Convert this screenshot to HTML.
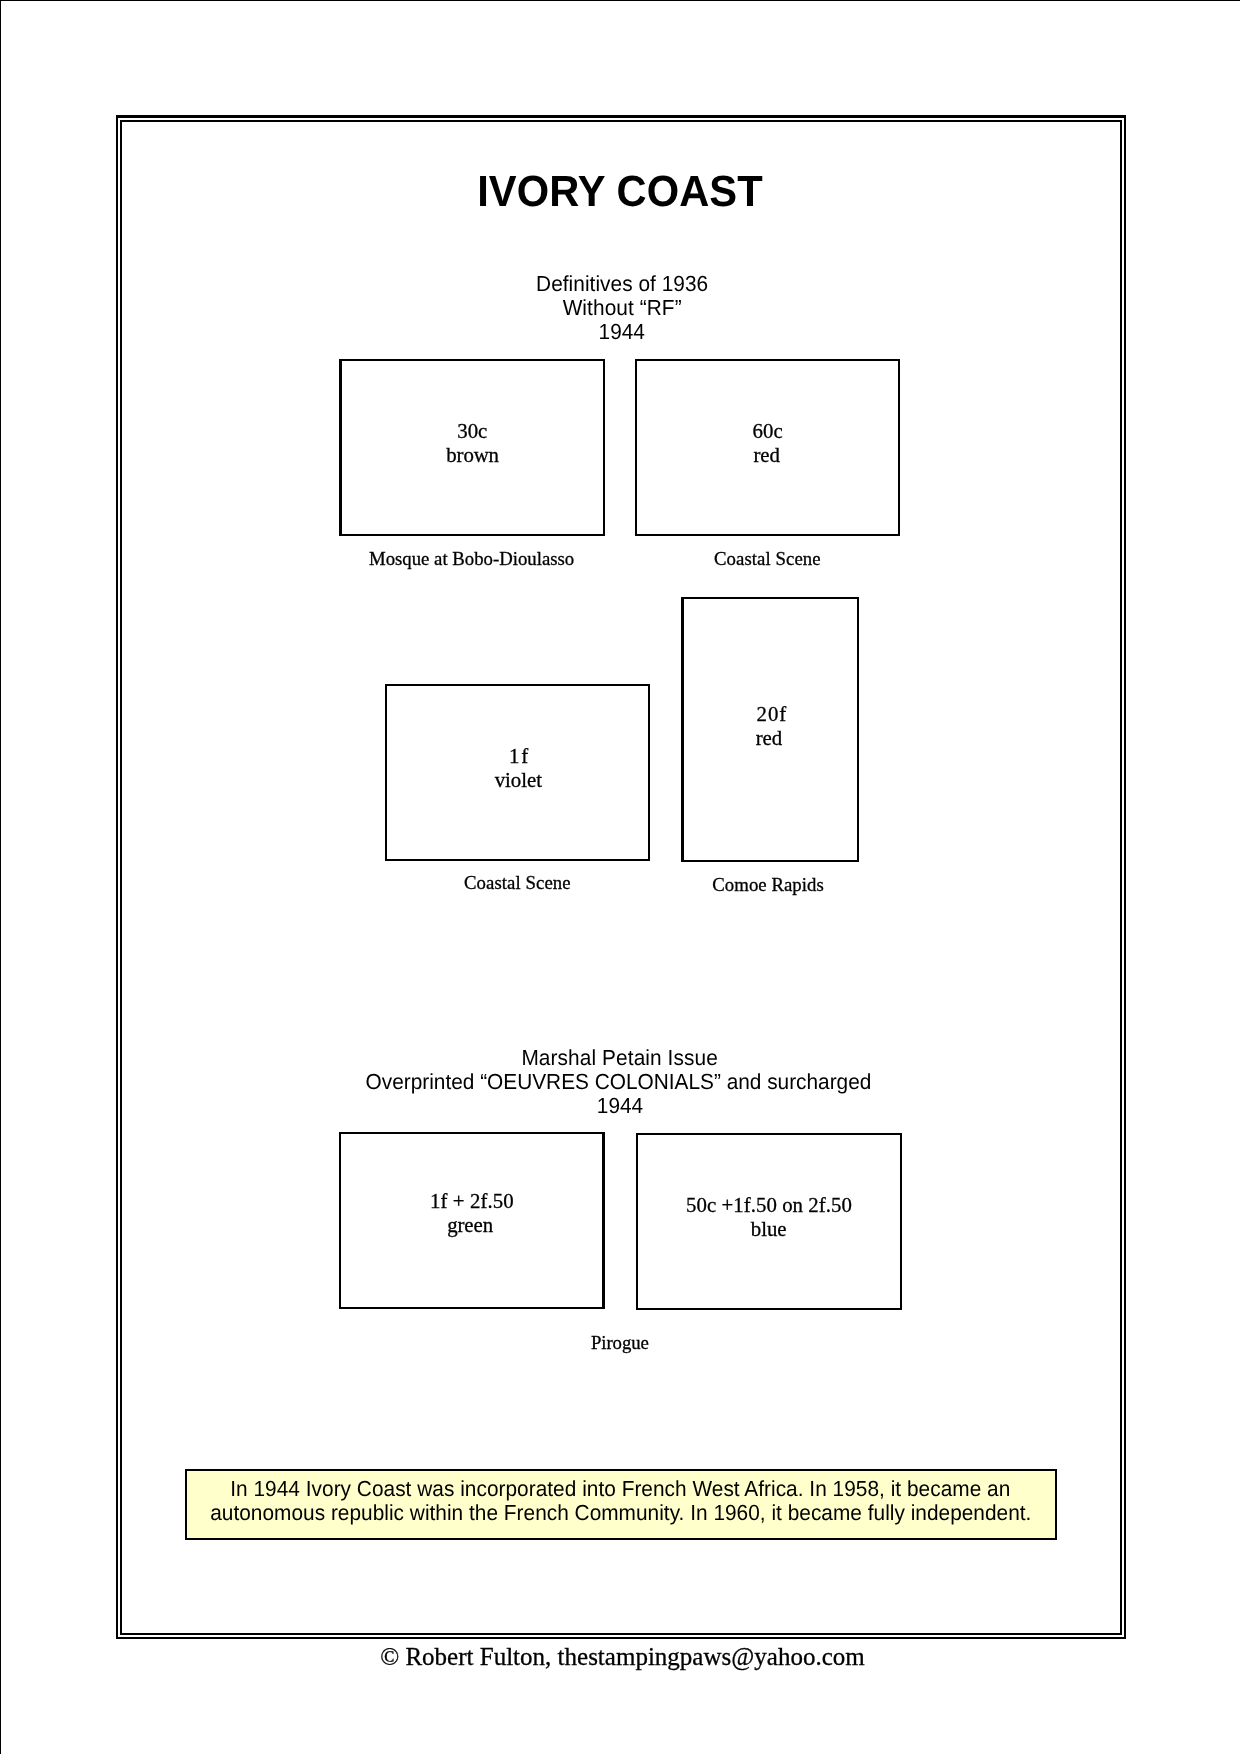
<!DOCTYPE html>
<html lang="en">
<head>
<meta charset="utf-8">
<title>Ivory Coast</title>
<style>
html,body{margin:0;padding:0;background:#fff;}
body{width:1240px;height:1754px;position:relative;overflow:hidden;color:#000;}
#sheet{position:absolute;left:0;top:0;width:1239px;height:1753px;border-left:1px solid #000;border-top:1px solid #000;}
.t{position:absolute;white-space:nowrap;margin:0;transform:translateZ(0);}
.p,.c,.f{-webkit-text-stroke:0.3px #000;}
.h{transform-origin:0 19px;transform:translate3d(0,0.8px,0) scaleY(1.046);text-rendering:geometricPrecision;}
.title{transform-origin:0 39px;transform:translateZ(0) scaleY(1.046);text-rendering:geometricPrecision;}
.b{position:absolute;border-style:solid;border-color:#000;}
.title{font:bold 41.67px/50px 'Liberation Sans', sans-serif;}
.h{font:20.83px/24px 'Liberation Sans', sans-serif;}
.p{font:20.83px/24px 'Liberation Serif', serif;}
.c{font:18.75px/22px 'Liberation Serif', serif;}
.f{font:25px/30px 'Liberation Serif', serif;}
</style>
</head>
<body>
<div id="sheet"></div>
<div class="b" style="left:116px;top:115px;width:1006px;height:1519px;border-width:3px 2px 2px 2px;"></div>
<div class="b" style="left:120px;top:120px;width:998px;height:1511px;border-width:2px 2px 2px 2px;"></div>
<div class="b" style="left:339px;top:359px;width:261px;height:173px;border-width:2px 2px 2px 3px;"></div>
<div class="b" style="left:635px;top:359px;width:261px;height:173px;border-width:2px 2px 2px 2px;"></div>
<div class="b" style="left:385px;top:684px;width:261px;height:173px;border-width:2px 2px 2px 2px;"></div>
<div class="b" style="left:681px;top:597px;width:173px;height:261px;border-width:2px 2px 2px 3px;"></div>
<div class="b" style="left:339px;top:1132px;width:261px;height:173px;border-width:2px 3px 2px 2px;"></div>
<div class="b" style="left:636px;top:1133px;width:262px;height:173px;border-width:2px 2px 2px 2px;"></div>
<div class="b" style="left:185px;top:1469px;width:868px;height:67px;border-width:2px 2px 2px 2px;background:#ffffcc;"></div>
<div class="t title" style="left:477.20px;top:167px;letter-spacing:0.076px;">IVORY COAST</div>
<div class="t h" style="left:536.09px;top:272px;letter-spacing:0.039px;">Definitives of 1936</div>
<div class="t h" style="left:562.64px;top:296px;letter-spacing:0.087px;">Without “RF”</div>
<div class="t h" style="left:598.60px;top:320px;">1944</div>
<div class="t p" style="left:457.28px;top:419px;">30c</div>
<div class="t p" style="left:446.36px;top:443px;letter-spacing:-0.155px;">brown</div>
<div class="t p" style="left:752.57px;top:419px;">60c</div>
<div class="t p" style="left:753.39px;top:443px;">red</div>
<div class="t c" style="left:369.00px;top:548px;">Mosque at Bobo-Dioulasso</div>
<div class="t c" style="left:714.01px;top:548px;letter-spacing:0.078px;">Coastal Scene</div>
<div class="t p" style="left:508.93px;top:744px;letter-spacing:2.000px;">1f</div>
<div class="t p" style="left:494.71px;top:768px;letter-spacing:-0.040px;">violet</div>
<div class="t p" style="left:756.52px;top:702px;letter-spacing:1.000px;">20f</div>
<div class="t p" style="left:755.63px;top:726px;">red</div>
<div class="t c" style="left:464.01px;top:872px;letter-spacing:0.078px;">Coastal Scene</div>
<div class="t c" style="left:712.32px;top:874px;letter-spacing:0.045px;">Comoe Rapids</div>
<div class="t h" style="left:521.40px;top:1046px;letter-spacing:0.101px;">Marshal Petain Issue</div>
<div class="t h" style="left:365.59px;top:1070px;letter-spacing:-0.002px;">Overprinted “OEUVRES COLONIALS” and surcharged</div>
<div class="t h" style="left:596.87px;top:1094px;">1944</div>
<div class="t p" style="left:430.09px;top:1189px;letter-spacing:0.067px;">1f + 2f.50</div>
<div class="t p" style="left:447.13px;top:1213px;letter-spacing:-0.075px;">green</div>
<div class="t p" style="left:686.00px;top:1193px;letter-spacing:0.047px;">50c +1f.50 on 2f.50</div>
<div class="t p" style="left:750.72px;top:1217px;">blue</div>
<div class="t c" style="left:591.03px;top:1332px;letter-spacing:-0.096px;">Pirogue</div>
<div class="t h" style="left:230.27px;top:1477px;letter-spacing:0.029px;">In 1944 Ivory Coast was incorporated into French West Africa. In 1958, it became an</div>
<div class="t h" style="left:210.26px;top:1501px;letter-spacing:0.021px;">autonomous republic within the French Community. In 1960, it became fully independent.</div>
<div class="t f" style="left:380.13px;top:1642px;letter-spacing:0.007px;">© Robert Fulton, thestampingpaws@yahoo.com</div>
</body>
</html>
